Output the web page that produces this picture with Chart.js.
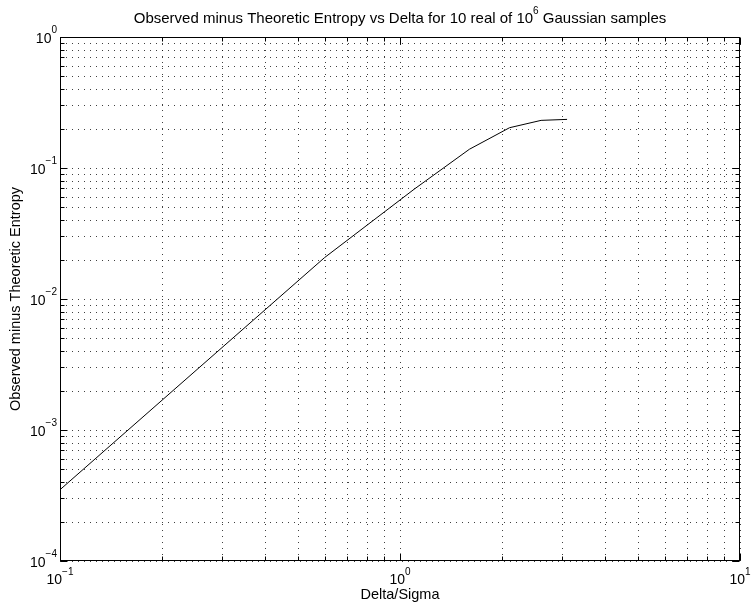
<!DOCTYPE html>
<html>
<head>
<meta charset="utf-8">
<script src="https://cdn.jsdelivr.net/npm/chart.js@4/dist/chart.umd.min.js"></script>
<style>
    html, body { margin: 0; padding: 0; background: #fff; }
    #wrap { width: 753px; height: 607px; }
</style>
</head>
<body>
<div id="wrap"><canvas id="chartCanvas" width="753" height="607"></canvas></div>
<script>
// Datos
const deltaSigma = [0.1, 0.6, 1.1, 1.6, 2.1, 2.6, 3.1];
const entropyDiff = [3.5e-4, 0.0207, 0.0688, 0.139, 0.203, 0.231, 0.235];

// Ticks (rejilla menor) y exponentes de las etiquetas
const xGridValues = [0.1, 0.2, 0.3, 0.4, 0.5, 0.6, 0.7, 0.8, 0.9,
                     1, 2, 3, 4, 5, 6, 7, 8, 9, 10];
const yGridValues = [1e-4, 2e-4, 3e-4, 4e-4, 5e-4, 6e-4, 7e-4, 8e-4, 9e-4,
                     1e-3, 2e-3, 3e-3, 4e-3, 5e-3, 6e-3, 7e-3, 8e-3, 9e-3,
                     0.01, 0.02, 0.03, 0.04, 0.05, 0.06, 0.07, 0.08, 0.09,
                     0.1, 0.2, 0.3, 0.4, 0.5, 0.6, 0.7, 0.8, 0.9, 1];
const xLabelExps = [-1, 0, 1];
const yLabelExps = [-4, -3, -2, -1, 0];

const titleParts = ['Observed minus Theoretic Entropy vs Delta for 10 real of 10', '6', ' Gaussian samples'];
const xAxisTitle = 'Delta/Sigma';
const yAxisTitle = 'Observed minus Theoretic Entropy';

const FONT = '"Liberation Sans", Arial, Helvetica, sans-serif';

function expText(e) {
    return e < 0 ? '\u2212' + Math.abs(e) : String(e);
}

function isMajor(v) {
    const l = Math.log10(v);
    return Math.abs(l - Math.round(l)) < 1e-9;
}

// Dibuja rejilla punteada antes de la linea
const gridPlugin = {
    id: 'matlabGrid',
    beforeDatasetsDraw(chart) {
        const { ctx, chartArea: a, scales: { x, y } } = chart;
        ctx.save();
        ctx.strokeStyle = 'rgba(0,0,0,0.75)';
        ctx.lineWidth = 1;
        ctx.setLineDash([1, 5]);
        xGridValues.forEach(v => {
            const px = Math.round(x.getPixelForValue(v)) + 0.5;
            ctx.beginPath();
            ctx.moveTo(px, a.bottom);
            ctx.lineTo(px, a.top);
            ctx.stroke();
        });
        yGridValues.forEach(v => {
            const py = Math.round(y.getPixelForValue(v)) + 0.5;
            ctx.beginPath();
            ctx.moveTo(a.left, py);
            ctx.lineTo(a.right, py);
            ctx.stroke();
        });
        ctx.restore();
    }
};

// Caja, marcas, etiquetas y titulos
const framePlugin = {
    id: 'matlabFrame',
    afterDatasetsDraw(chart) {
        const { ctx, chartArea: a, scales: { x, y } } = chart;
        const L = Math.round(a.left) + 0.5, R = Math.round(a.right) - 0.5;
        const T = Math.round(a.top) + 0.5, B = Math.round(a.bottom) - 0.5;
        ctx.save();
        ctx.strokeStyle = '#000';
        ctx.lineWidth = 1;
        ctx.setLineDash([]);
        ctx.strokeRect(L, T, R - L, B - T);

        ctx.beginPath();
        xGridValues.forEach(v => {
            const px = Math.round(x.getPixelForValue(v)) + 0.5;
            const len = isMajor(v) ? 7 : 4;
            ctx.moveTo(px, B); ctx.lineTo(px, B - len);
            ctx.moveTo(px, T); ctx.lineTo(px, T + len);
        });
        yGridValues.forEach(v => {
            const py = Math.round(y.getPixelForValue(v)) + 0.5;
            const len = isMajor(v) ? 7 : 4;
            ctx.moveTo(L, py); ctx.lineTo(L + len, py);
            ctx.moveTo(R, py); ctx.lineTo(R - len, py);
        });
        ctx.stroke();

        ctx.fillStyle = '#000';
        ctx.textBaseline = 'alphabetic';
        ctx.textAlign = 'left';
        const big = '14px ' + FONT, small = '10px ' + FONT;

        // etiquetas eje x (etiqueta completa centrada en la marca)
        xLabelExps.forEach(e => {
            const px = x.getPixelForValue(Math.pow(10, e));
            ctx.font = small;
            const we = ctx.measureText(expText(e)).width;
            ctx.font = big;
            const w10 = ctx.measureText('10').width;
            const x0 = px - (w10 + we) / 2;
            ctx.fillText('10', x0, 584);
            ctx.font = small;
            ctx.fillText(expText(e), x0 + w10, 575);
        });

        // etiquetas eje y
        yLabelExps.forEach(e => {
            const py = y.getPixelForValue(Math.pow(10, e));
            ctx.font = small;
            const we = ctx.measureText(expText(e)).width;
            ctx.font = big;
            const w10 = ctx.measureText('10').width;
            const x0 = 57 - we - w10;
            ctx.fillText('10', x0, py + 6);
            ctx.font = small;
            ctx.fillText(expText(e), x0 + w10, py - 4);
        });

        // titulo con superindice
        const tf = '15px ' + FONT, tfs = '10px ' + FONT;
        ctx.font = tf;
        const w0 = ctx.measureText(titleParts[0]).width;
        const w2 = ctx.measureText(titleParts[2]).width;
        ctx.font = tfs;
        const w1 = ctx.measureText(titleParts[1]).width;
        let tx = (a.left + a.right) / 2 - (w0 + w1 + w2) / 2;
        ctx.font = tf;
        ctx.fillText(titleParts[0], tx, 23);
        ctx.font = tfs;
        ctx.fillText(titleParts[1], tx + w0, 14);
        ctx.font = tf;
        ctx.fillText(titleParts[2], tx + w0 + w1, 23);

        // titulos de ejes
        ctx.font = '14.5px ' + FONT;
        ctx.textAlign = 'center';
        ctx.fillText(xAxisTitle, (a.left + a.right) / 2, 599);
        ctx.translate(20, (a.top + a.bottom) / 2);
        ctx.rotate(-Math.PI / 2);
        ctx.fillText(yAxisTitle, 0, 0);
        ctx.restore();
    }
};

const ctx = document.getElementById('chartCanvas').getContext('2d');
const myChart = new Chart(ctx, {
    type: 'line',
    data: {
        datasets: [{
            data: deltaSigma.map((v, i) => ({ x: v, y: entropyDiff[i] })),
            borderColor: '#000',
            borderWidth: 1,
            pointRadius: 0,
            tension: 0,
            fill: false
        }]
    },
    options: {
        responsive: false,
        animation: false,
        layout: { padding: { left: 60, right: 13, top: 37, bottom: 46 } },
        plugins: {
            legend: { display: false },
            tooltip: { enabled: false },
            title: { display: false }
        },
        scales: {
            x: {
                type: 'logarithmic',
                min: 0.1,
                max: 10,
                ticks: { display: false },
                grid: { display: false },
                border: { display: false },
                afterFit(s) { s.height = 0; }
            },
            y: {
                type: 'logarithmic',
                min: 1e-4,
                max: 1,
                ticks: { display: false },
                grid: { display: false },
                border: { display: false },
                afterFit(s) { s.width = 0; }
            }
        }
    },
    plugins: [gridPlugin, framePlugin]
});
</script>
</body>
</html>
